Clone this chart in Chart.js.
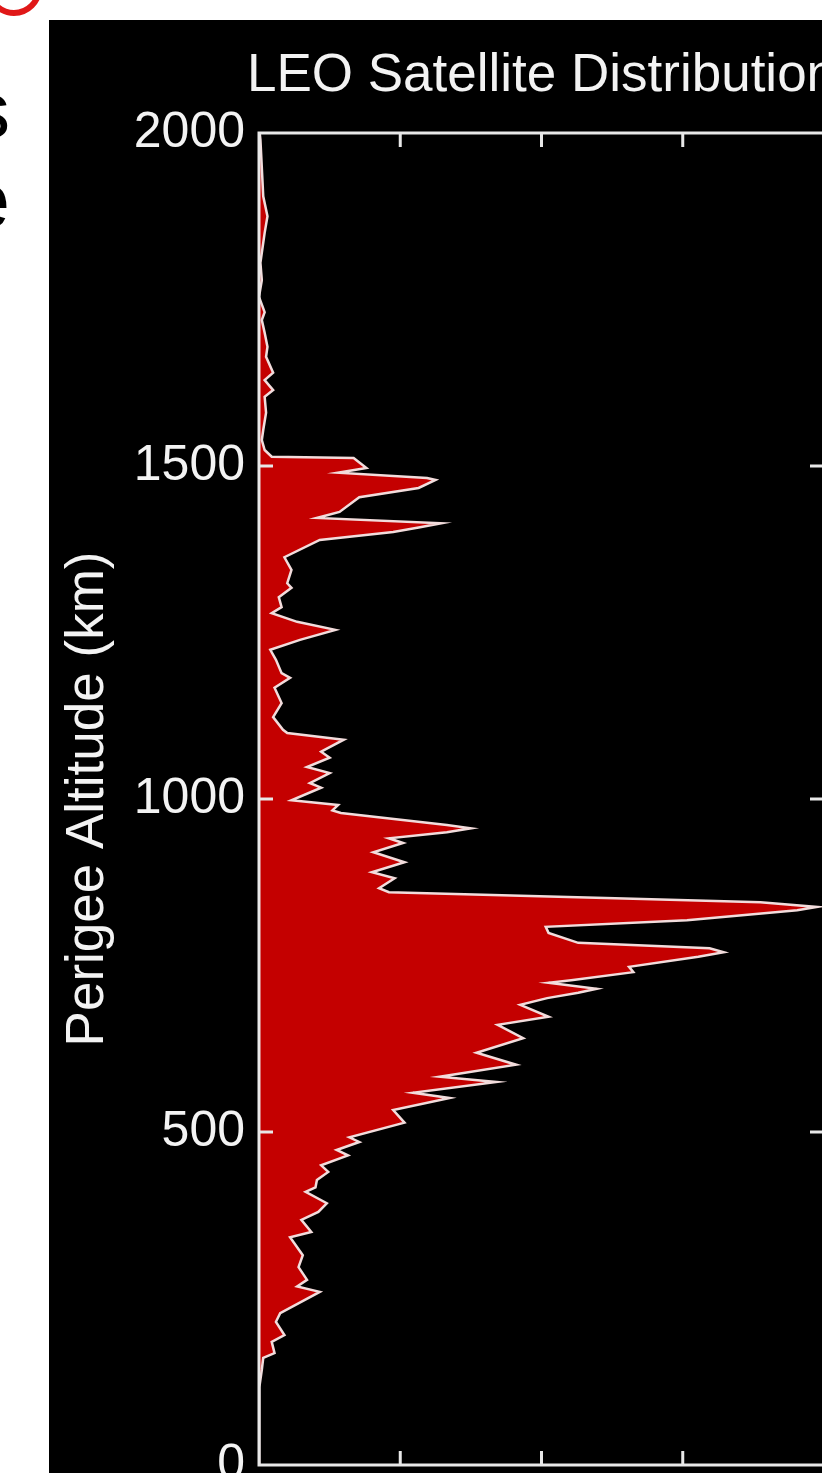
<!DOCTYPE html>
<html>
<head>
<meta charset="utf-8">
<script src="https://cdn.jsdelivr.net/npm/chart.js@4/dist/chart.umd.min.js"></script>
<style>
html, body { margin: 0; padding: 0; background: #ffffff; }
#page { position: relative; width: 822px; height: 1473px; overflow: hidden; background: #ffffff; }
#panel { position: absolute; left: 49px; top: 20px; width: 773px; height: 1453px; background: #000000; overflow: hidden; }
#chart { position: absolute; left: 0; top: 0; }
.slide { position: absolute; left: -100px; width: 110px; text-align: right; font: 78px "Liberation Sans", Arial, sans-serif; line-height: 78px; color: #000; }
#ring { position: absolute; left: -14px; top: -40px; width: 44px; height: 44px; border: 6px solid #e01818; border-radius: 50%; }
</style>
</head>
<body>
<div id="page">
  <div id="ring"></div>
  <div class="slide" style="top:71px">s</div>
  <div class="slide" style="top:161px">e</div>
  <div id="panel"><canvas id="chart" width="800" height="1520"></canvas></div>
</div>

<script>

// ---------- DATA ----------

// perigee altitude (km)
const altitudes = [0, 100, 117, 143, 161, 168, 185, 195, 215, 228, 260, 268, 278, 297, 315, 342, 350, 368, 380, 393,
  410, 417, 428, 440, 450, 465, 473, 485, 492, 514, 533, 551, 559, 575, 583, 601, 619, 641, 661, 673,
  691, 701, 709, 715, 724, 728, 740, 748, 763, 770, 776, 784, 799, 808, 818, 833, 838, 845, 851, 860,
  866, 881, 890, 905, 920, 934, 941, 950, 956, 961, 979, 983, 991, 998, 1017, 1024, 1039, 1048, 1062, 1071,
  1089, 1099, 1104, 1123, 1144, 1167, 1182, 1189, 1209, 1224, 1239, 1254, 1266, 1279, 1288, 1303, 1317, 1324, 1344, 1363,
  1389, 1401, 1408, 1414, 1422, 1431, 1453, 1467, 1479, 1482, 1490, 1497, 1512, 1514, 1524, 1539, 1554, 1580, 1604, 1614,
  1629, 1640, 1664, 1679, 1700, 1719, 1731, 1754, 1779, 1805, 1850, 1875, 1905, 1990, 2000];

// number of satellites per altitude bin
const counts = [0, 0, 0.5, 2, 3, 11, 9, 18, 12, 15, 43, 27, 34, 28, 31, 22, 37, 30, 42, 48,
  33, 40, 41, 49, 44, 63, 55, 71, 64, 103, 95, 135, 109, 168, 128, 182, 154, 187, 169, 205,
  185, 204, 226, 239, 205, 221, 265, 262, 311, 329, 319, 226, 205, 203, 303, 381, 395, 355, 252, 92,
  85, 96, 80, 103, 81, 102, 92, 133, 150, 133, 58, 52, 56, 23, 44, 36, 50, 34, 50, 44,
  60, 20, 17, 10, 16, 11, 22, 16, 12, 8, 29, 54, 27, 9, 16, 14, 23, 20, 23, 18,
  43, 95, 114, 129, 41, 57, 71, 113, 125, 119, 56, 76, 67, 9, 4, 2, 3, 5, 4, 10,
  4, 10, 5, 6, 4, 2, 4, 0, 2, 1, 4, 6, 3, 1, 0.5];

const altTicks = [0, 500, 1000, 1500, 2000];
const countTicks = [0, 100, 200, 300, 400];

const chartTitle = "LEO Satellite Distribution";
const axisTitle = "Perigee Altitude (km)";


// ---------- STYLE ----------

const fontFamily = '"Liberation Sans", Arial, sans-serif';
const textColor = "#f3f3f3";
const frameColor = "#e8e8e8";


// ---------- FRAME WITH INWARD TICKS ----------

const framePlugin = {
  id: "frame",
  afterDatasetsDraw(chart){
    const {ctx, chartArea: a, scales} = chart;
    const len = 14;
    ctx.save();
    ctx.strokeStyle = frameColor;
    ctx.lineWidth = 3;
    ctx.strokeRect(a.left, a.top, a.right - a.left, a.bottom - a.top);
    ctx.beginPath();
    countTicks.slice(1, -1).forEach(v => {
      let px = scales.x.getPixelForValue(v);
      ctx.moveTo(px, a.top); ctx.lineTo(px, a.top + len);
      ctx.moveTo(px, a.bottom); ctx.lineTo(px, a.bottom - len);
    });
    altTicks.slice(1, -1).forEach(v => {
      let py = scales.y.getPixelForValue(v);
      ctx.moveTo(a.left, py); ctx.lineTo(a.left + len, py);
      ctx.moveTo(a.right, py); ctx.lineTo(a.right - len, py);
    });
    ctx.stroke();
    ctx.restore();
  }
};

// Title centred over the plot (the built-in title would squeeze it to the plot width)
const plotTitlePlugin = {
  id: "plotTitle",
  afterDraw(chart){
    const {ctx, chartArea: a} = chart;
    ctx.save();
    ctx.fillStyle = textColor;
    ctx.font = "53px " + fontFamily;
    ctx.textAlign = "center";
    ctx.textBaseline = "middle";
    ctx.fillText(chartTitle, (a.left + a.right) / 2, 56);
    ctx.restore();
  }
};


// ---------- CHART ----------

function createChart(){

const ctx = document.getElementById("chart");

new Chart(ctx, {

type: "line",

data: {
  datasets: [{
    data: altitudes.map((h, i) => ({x: counts[i], y: h})),
    borderColor: "#f2dcdc",
    borderWidth: 2.5,
    backgroundColor: "#c40000",
    fill: "origin",
    pointRadius: 0,
    tension: 0
  }]
},

options: {
  indexAxis: "y",
  responsive: false,
  animation: false,
  layout: { padding: { left: 0, right: 25, top: 113, bottom: 0 } },
  plugins: {
    legend: { display: false },
    tooltip: { enabled: false },
    title: { display: false }
  },
  scales: {
    x: {
      type: "linear",
      min: countTicks[0],
      max: countTicks[countTicks.length - 1],
      ticks: { display: false, stepSize: 100 },
      grid: { display: false, drawTicks: false },
      border: { display: false },
      afterFit(s){ s.height = 75; s.paddingLeft = 0; s.paddingRight = 0; }
    },
    y: {
      type: "linear",
      min: altTicks[0],
      max: altTicks[altTicks.length - 1],
      afterBuildTicks(s){ s.ticks = altTicks.map(v => ({value: v})); },
      ticks: {
        color: textColor,
        padding: 14,
        font: { family: fontFamily, size: 50 },
        callback: v => String(v)
      },
      grid: { display: false, drawTicks: false },
      border: { display: false },
      title: {
        display: true,
        text: axisTitle,
        color: textColor,
        font: { family: fontFamily, size: 53 },
        padding: { top: 8, bottom: 0 }
      },
      afterFit(s){ s.width = 210; s.paddingTop = 0; s.paddingBottom = 0; }
    }
  }
},

plugins: [framePlugin, plotTitlePlugin]

});

}

createChart();

</script>
</body>
</html>
